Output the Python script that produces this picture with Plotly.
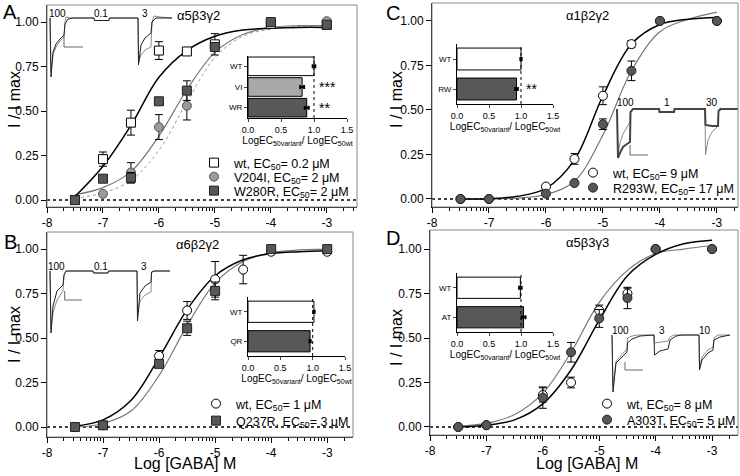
import plotly.graph_objects as go

W, H = 740, 476
FONT = "Liberation Sans, Arial, sans-serif"

# ---------------- concentration-response data (log [GABA] M vs I/Imax) ----------------
a_x = [-7.5, -7, -6.5, -6, -5.5, -5, -4, -3]
a_wt = [0.0, 0.23, 0.435, 0.84, 0.835, 0.875, 0.99, 0.985]
a_wt_err = [0, 0.04, 0.07, 0.05, 0, 0.06, 0, 0]
a_vi = [0.0, 0.035, 0.155, 0.41, 0.53, 0.86, 1.0, 1.005]
a_vi_err = [0, 0, 0.055, 0.07, 0.08, 0, 0, 0]
a_wr = [0.0, 0.12, 0.125, 0.555, 0.615, 0.86, 1.0, 0.985]
a_wr_err = [0, 0.02, 0.03, 0, 0.055, 0, 0, 0]

b_x_wt = [-7.5, -7, -6, -5.5, -5, -4.5, -4, -3]
b_wt = [0.0, 0.01, 0.40, 0.655, 0.83, 0.885, 0.985, 0.985]
b_wt_err = [0, 0, 0.03, 0.05, 0.1, 0.08, 0, 0]
b_x_qr = [-7.5, -7, -6, -5.5, -5, -4, -3]
b_qr = [0.0, 0.01, 0.355, 0.555, 0.765, 1.0, 1.0]
b_qr_err = [0, 0, 0.02, 0.04, 0.05, 0, 0]

c_x = [-7.5, -7, -6, -5.5, -5, -4.5, -4, -3]
c_wt = [0.0, 0.0, 0.07, 0.225, 0.58, 0.87, 1.0, 1.0]
c_wt_err = [0, 0, 0.01, 0.03, 0.05, 0.02, 0, 0]
c_rw = [0.0, 0.0, 0.03, 0.09, 0.42, 0.72, 1.0, 1.0]
c_rw_err = [0, 0, 0, 0, 0.03, 0.055, 0, 0]

d_x = [-7.5, -7, -6, -5.5, -5, -4.5, -4, -3]
d_wt = [0.0, 0.01, 0.18, 0.25, 0.655, 0.75, 1.0, 1.0]
d_wt_err = [0, 0, 0.04, 0.03, 0.03, 0.03, 0, 0]
d_at = [0.0, 0.01, 0.165, 0.42, 0.61, 0.725, 1.0, 1.0]
d_at_err = [0, 0, 0.06, 0.055, 0.05, 0.06, 0, 0]

# fitted curves
fit_x = [-7.5, -7, -6.5, -6, -5.5, -5, -4.5, -4, -3.5, -3]
a_fit_wt = [0.02, 0.19, 0.42, 0.69, 0.84, 0.92, 0.955, 0.965, 0.97, 0.97]
a_fit_vi = [0.03, 0.07, 0.16, 0.36, 0.62, 0.83, 0.93, 0.97, 0.98, 0.98]
a_fit_wr = [0.01, 0.04, 0.11, 0.28, 0.55, 0.80, 0.92, 0.96, 0.975, 0.98]
b_fit_wt = [0.005, 0.04, 0.15, 0.39, 0.66, 0.85, 0.94, 0.975, 0.985, 0.99]
b_fit_qr = [0.0, 0.02, 0.09, 0.29, 0.57, 0.81, 0.93, 0.98, 0.995, 1.0]
c_fit_wt = [0.0, 0.002, 0.015, 0.06, 0.22, 0.58, 0.87, 0.98, 1.01, 1.02]
c_fit_rw = [0.0, 0.0, 0.005, 0.025, 0.10, 0.36, 0.72, 0.94, 1.01, 1.05]
d_fit_wt = [0.0, 0.01, 0.04, 0.13, 0.32, 0.60, 0.85, 0.97, 1.03, 1.05]
d_fit_at = [0.005, 0.02, 0.07, 0.19, 0.42, 0.70, 0.88, 0.975, 1.0, 1.02]

# inset bars: LogEC50 variant / LogEC50 wt
a_bar_cat = ["WT", "VI", "WR"]
a_bar_val = [1.0, 0.82, 0.89]
a_bar_err = [0.02, 0.03, 0.03]
b_bar_cat = ["WT", "QR"]
b_bar_val = [1.02, 0.96]
b_bar_err = [0.01, 0.01]
c_bar_cat = ["WT", "RW"]
c_bar_val = [1.0, 0.93]
c_bar_err = [0.01, 0.02]
d_bar_cat = ["WT", "AT"]
d_bar_val = [0.99, 1.04]
d_bar_err = [0.02, 0.03]

# current recordings (time offset, current below baseline), two cells each
a_rec1_t = [0, 1, 3, 6, 10, 14, 15, 18, 22, 44, 44.5, 59, 59.5, 88, 88.5, 91, 95, 101, 102, 106, 122]
a_rec1_i = [0, -59, -34, -26, -21, -17, -6, -1, 0, 0, -2.5, -2.5, 0, 0, -47, -27, -20, -15, -4, 0, 0]
a_rec2_t = [0, 1, 3, 6, 10, 14, 15, 16, 20, 44, 44.5, 59, 59.5, 88, 88.5, 91, 95, 101, 102, 104, 110, 122]
a_rec2_i = [0, -54, -37, -29, -23, -19, -4, 1, 0, 0, -2.5, -2.5, 0, 0, -44, -37, -32, -29, -4, 2, 1, 0]
b_rec1_t = [0, 1, 3, 7, 13, 14, 16, 43, 43.5, 58, 58.5, 87, 87.5, 90, 95, 101, 101.5, 104, 120]
b_rec1_i = [0, -62, -35, -20, -14, -4, 0, 0, -2, -2, 0, 0, -50, -22, -15, -11, -1, 0, 0]
b_rec2_t = [0, 1, 3, 7, 13, 14, 16, 43, 43.5, 58, 58.5, 87, 87.5, 90, 95, 101, 101.5, 104, 120]
b_rec2_i = [0, -58, -42, -29, -20, -4, 0, 0, -2, -2, 0, 0, -44, -30, -24, -21, -2, 0, 0]
c_rec1_t = [0, 1, 3, 6, 10, 13, 13.5, 16, 42, 42.5, 57, 57.5, 88, 88.5, 95, 101, 101.5, 104, 121]
c_rec1_i = [0, -49, -44, -38, -35, -33, -3, 0, 0, -3, -3, 0, 0, -16, -17, -17, -2, 0, 0]
c_rec2_t = [0, 1, 3, 6, 10, 13, 13.5, 16, 42, 42.5, 57, 57.5, 88, 88.5, 91, 95, 101, 101.5, 103, 106, 121]
c_rec2_i = [0, -46, -34, -25, -18, -13, -2, 0, 0, -3, -3, 0, 0, -46, -31, -23, -17, -2, 1, 0, 0]
d_rec1_t = [0, 1, 4, 10, 15, 15.5, 20, 28, 42, 42.5, 48, 56, 58, 64, 70, 87, 87.5, 90, 96, 101, 102, 108, 118]
d_rec1_i = [0, -57, -28, -22, -17, -8, -4, -1, 0, -20, -16, -14, -5, -1, 0, 0, -35, -25, -18, -15, -5, -2, 0]
d_rec2_t = [0, 1, 4, 10, 15, 15.5, 20, 26, 42, 42.5, 56, 58, 62, 87, 87.5, 90, 96, 101, 102, 106, 118]
d_rec2_i = [0, -52, -26, -19, -14, -3, -1, 0, 0, -8, -6, -2, 0, 0, -32, -22, -15, -12, -3, 0, 0]
# scale bars (L shape)
a_bar_t, a_bar_i = [14, 14, 33], [-16, -29, -29]
b_bar_t, b_bar_i = [14.7, 14.7, 32], [-20, -29, -29]
c_bar_t, c_bar_i = [13, 13, 31], [-36, -46, -46]
d_bar_t, d_bar_i = [13, 13, 31], [-27, -35, -35]


def dx(a, b):
    return [a / W, b / W]


def dy(top, bottom):
    return [1 - bottom / H, 1 - top / H]


def px(x):
    return x / W


def py(y):
    return 1 - y / H


def note(text, x, y, size, **kw):
    d = dict(xref="paper", yref="paper", x=px(x), y=py(y), text=text, showarrow=False,
             xanchor="center", yanchor="middle", font=dict(size=size, color="black"))
    d.update(kw)
    return d


fig = go.Figure()
layout = {}
annotations = []
shapes = []

minor_vals = [k + m for k in range(-8, -2) for m in
              [0.301, 0.477, 0.602, 0.699, 0.778, 0.845, 0.903, 0.954]]

# main panels: key, x px, y px, x range, y range
panels = [
    ("", (47, 357), (5, 207), [-8, -2.46], [-0.039, 1.096]),
    ("2", (47, 353), (232, 437), [-8, -2.54], [-0.056, 1.096]),
    ("3", (432, 738), (3, 207), [-8, -2.63], [-0.045, 1.101]),
    ("4", (430, 738), (230, 435), [-8, -2.54], [-0.045, 1.107]),
]
for key, xp, yp, xr, yr in panels:
    layout["xaxis" + key] = dict(
        domain=dx(*xp), range=xr, anchor="y" + key, showline=True, linecolor="black",
        linewidth=1, ticks="outside", ticklen=5, tickcolor="black",
        tickvals=[-8, -7, -6, -5, -4, -3], ticktext=["-8", "-7", "-6", "-5", "-4", "-3"],
        tickfont=dict(size=12, color="black"), showgrid=False, zeroline=False,
        minor=dict(tickvals=minor_vals, ticks="outside", ticklen=3, tickcolor="black", showgrid=False),
    )
    layout["yaxis" + key] = dict(
        domain=dy(*yp), range=yr, anchor="x" + key, showline=True, linecolor="black",
        linewidth=1, ticks="outside", ticklen=5, tickcolor="black",
        tickvals=[0, 0.25, 0.5, 0.75, 1.0], ticktext=["0.00", "0.25", "0.50", "0.75", "1.00"],
        tickfont=dict(size=12, color="black"), showgrid=False, zeroline=False,
    )
    xr_ = "x" + key
    yr_ = "y" + key
    shapes.append(dict(type="rect", xref=xr_ + " domain", yref=yr_ + " domain",
                       x0=0, x1=1, y0=0, y1=1, line=dict(color="#8a8a8a", width=1)))
    shapes.append(dict(type="line", xref=xr_ + " domain", yref=yr_, x0=0, x1=1, y0=0, y1=0,
                       line=dict(color="black", width=1.5, dash="dot"), layer="below"))

legend_n = [0]


def legend_for(mx, my):
    legend_n[0] += 1
    name = "legend" if legend_n[0] == 1 else "legend%d" % legend_n[0]
    layout[name] = dict(x=px(mx - 26), y=py(my), xanchor="left", yanchor="middle",
                        bgcolor="rgba(0,0,0,0)", font=dict(size=12.5, color="black", family=FONT),
                        itemclick=False)
    return name


def fit_line(key, ys, color, width=1.3, dash="solid"):
    fig.add_trace(go.Scatter(x=fit_x, y=ys, mode="lines", xaxis="x" + key, yaxis="y" + key,
                             line=dict(color=color, width=width, dash=dash, shape="spline", smoothing=1.0),
                             showlegend=False, hoverinfo="skip"))


def points(key, xs, ys, err, symbol, fill, edge, name, leg):
    fig.add_trace(go.Scatter(
        x=xs, y=ys, mode="markers", xaxis="x" + key, yaxis="y" + key, name=name,
        marker=dict(symbol=symbol, size=9, color=fill, line=dict(color=edge, width=1)),
        error_y=dict(type="data", array=err, color="black", thickness=1, width=4),
        legend=legend_for(*leg), showlegend=True))


EC = "EC<sub>50</sub>"
# panel A
fit_line("", a_fit_wr, "#9a9a9a", 1, "dot")
fit_line("", a_fit_vi, "#777777", 1.2)
fit_line("", a_fit_wt, "black", 1.5)
points("", a_x, a_wt, a_wt_err, "square", "white", "black", "wt, %s= 0.2 μM" % EC, (220, 163))
points("", a_x, a_vi, a_vi_err, "circle", "#9b9b9b", "#555555", "V204I, %s= 2 μM" % EC, (220, 177))
points("", a_x, a_wr, a_wr_err, "square", "#575757", "#222222", "W280R, %s= 2 μM" % EC, (220, 191))
# panel B
fit_line("2", b_fit_qr, "#777777", 1.2)
fit_line("2", b_fit_wt, "black", 1.5)
points("2", b_x_wt, b_wt, b_wt_err, "circle", "white", "black", "wt, %s= 1 μM" % EC, (222, 404))
points("2", b_x_qr, b_qr, b_qr_err, "square", "#575757", "#222222", "Q237R, %s= 3 μM" % EC, (222, 421))
# panel C
fit_line("3", c_fit_rw, "#777777", 1.2)
fit_line("3", c_fit_wt, "black", 1.5)
points("3", c_x, c_wt, c_wt_err, "circle", "white", "black", "wt, %s= 9 μM" % EC, (599, 173))
points("3", c_x, c_rw, c_rw_err, "circle", "#575757", "#222222", "R293W, %s= 17 μM" % EC, (599, 188))
# panel D
fit_line("4", d_fit_at, "#777777", 1.2)
fit_line("4", d_fit_wt, "black", 1.5)
points("4", d_x, d_wt, d_wt_err, "circle", "white", "black", "wt, %s= 8 μM" % EC, (613, 404))
points("4", d_x, d_at, d_at_err, "circle", "#575757", "#222222", "A303T, %s= 5 μM" % EC, (613, 420))

# bar insets
bar_insets = [
    ("5", (248, 347), (56, 118), a_bar_cat, a_bar_val, a_bar_err, ["white", "#a9a9a9", "#585858"], 0.1,
     {"VI": "***", "WR": "**"}),
    ("6", (248, 345), (297, 356), b_bar_cat, b_bar_val, b_bar_err, ["white", "#585858"], 0.28, {}),
    ("7", (457, 553), (44, 104), c_bar_cat, c_bar_val, c_bar_err, ["white", "#585858"], 0.27, {"RW": "**"}),
    ("8", (457, 553), (273, 332), d_bar_cat, d_bar_val, d_bar_err, ["white", "#585858"], 0.28, {}),
]
for key, xp, yp, cats, vals, errs, cols, gap, stars in bar_insets:
    fig.add_trace(go.Bar(
        x=vals, y=cats, orientation="h", xaxis="x" + key, yaxis="y" + key, width=1 - gap,
        marker=dict(color=cols, line=dict(color="black", width=1)),
        error_x=dict(type="data", array=errs, color="black", thickness=2, width=2),
        showlegend=False, hoverinfo="skip"))
    layout["xaxis" + key] = dict(
        domain=dx(*xp), range=[0, 1.5], anchor="y" + key, showline=True, linecolor="black",
        ticks="outside", ticklen=3, tickvals=[0, 0.5, 1.0, 1.5], ticktext=["0.0", "0.5", "1.0", "1.5"],
        tickfont=dict(size=9, color="black"), showgrid=False, zeroline=False,
        title=dict(text="LogEC<sub>50variant</sub>/ LogEC<sub>50wt</sub>",
                   font=dict(size=10, color="black"), standoff=2))
    layout["yaxis" + key] = dict(
        domain=dy(*yp), anchor="x" + key, type="category", categoryorder="array",
        categoryarray=cats, autorange="reversed", showline=True, linecolor="black",
        ticks="outside", ticklen=3, tickfont=dict(size=8, color="black"), showgrid=False)
    shapes.append(dict(type="line", xref="x" + key, yref="y%s domain" % key, x0=1, x1=1, y0=0, y1=1,
                       line=dict(color="black", width=1, dash="dot")))
    for cat, s in stars.items():
        annotations.append(dict(xref="x" + key, yref="y" + key, x=1.05, y=cat, text=s, showarrow=False,
                                xanchor="left", yanchor="middle", font=dict(size=14, color="black")))

# recording insets
rec_insets = [
    ("9", (46, 176), (10, 82), [-4, 126], [-64, 8], (a_rec1_t, a_rec1_i), (a_rec2_t, a_rec2_i),
     (a_bar_t, a_bar_i), "#222222", 1),
    ("10", (46, 176), (262, 336), [-4, 126], [-65, 9], (b_rec1_t, b_rec1_i), (b_rec2_t, b_rec2_i),
     (b_bar_t, b_bar_i), "#222222", 1),
    ("11", (613, 740), (98, 162), [-4, 123], [-53, 11], (c_rec1_t, c_rec1_i), (c_rec2_t, c_rec2_i),
     (c_bar_t, c_bar_i), "#444444", 2),
    ("12", (608, 735), (326, 396), [-4, 123], [-61, 9], (d_rec1_t, d_rec1_i), (d_rec2_t, d_rec2_i),
     (d_bar_t, d_bar_i), "#222222", 1),
]
for key, xp, yp, xr, yr, r1, r2, sb, col1, w1 in rec_insets:
    fig.add_trace(go.Scatter(x=r2[0], y=r2[1], mode="lines", xaxis="x" + key, yaxis="y" + key,
                             line=dict(color="#8c8c8c", width=1), showlegend=False, hoverinfo="skip"))
    fig.add_trace(go.Scatter(x=r1[0], y=r1[1], mode="lines", xaxis="x" + key, yaxis="y" + key,
                             line=dict(color=col1, width=w1), showlegend=False, hoverinfo="skip"))
    fig.add_trace(go.Scatter(x=sb[0], y=sb[1], mode="lines", xaxis="x" + key, yaxis="y" + key,
                             line=dict(color="#666666", width=1), showlegend=False, hoverinfo="skip"))
    layout["xaxis" + key] = dict(domain=dx(*xp), range=xr, anchor="y" + key, visible=False)
    layout["yaxis" + key] = dict(domain=dy(*yp), range=yr, anchor="x" + key, visible=False)

# recording concentration labels
rec_labels = [("100", 57, 13), ("0.1", 101, 13), ("3", 145, 13),
              ("100", 56, 266), ("0.1", 101, 266), ("3", 144, 266),
              ("100", 625, 102), ("1", 667, 102), ("30", 712, 102),
              ("100", 620, 330), ("3", 662, 330), ("10", 705, 330)]
for t, x, y in rec_labels:
    annotations.append(note(t, x, y, 10))

# panel titles, letters, axis titles
for t, x, y in [("α5β3γ2", 198, 15), ("α6β2γ2", 197, 245), ("α1β2γ2", 587, 15), ("α5β3γ3", 587, 243)]:
    annotations.append(note(t, x, y, 13))
for t, x, y in [("A", 10, 12), ("B", 10, 242), ("C", 393, 13), ("D", 393, 238)]:
    annotations.append(note(t, x, y, 20))
for x, y in [(14, 100), (14, 335), (396, 100), (396, 338)]:
    annotations.append(note("I / I max", x, y, 16, textangle=-90))
for x in [185, 587]:
    annotations.append(note("Log [GABA] M", x, 463, 16))

fig.update_layout(
    width=W, height=H, margin=dict(l=0, r=0, t=0, b=0, autoexpand=False),
    paper_bgcolor="white", plot_bgcolor="rgba(0,0,0,0)",
    font=dict(family=FONT, color="black"),
    bargap=0.1, shapes=shapes, annotations=annotations, **layout)

fig.write_html("out.html", config={"displayModeBar": False},
               post_script="document.body.style.margin='0px';")
